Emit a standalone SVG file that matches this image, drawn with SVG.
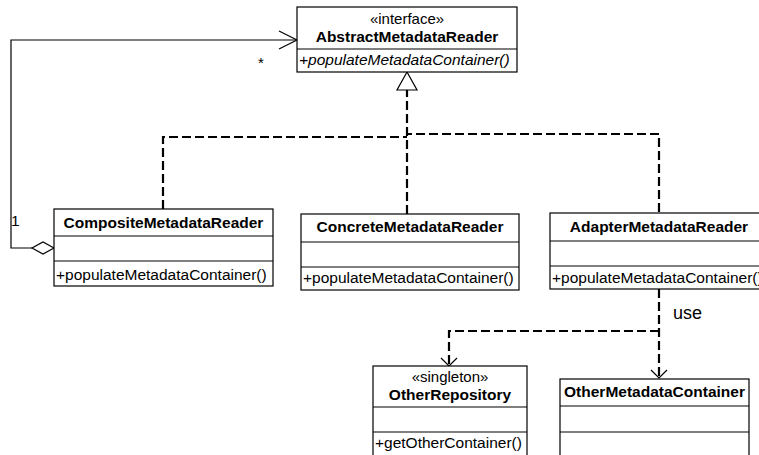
<svg xmlns="http://www.w3.org/2000/svg" width="759" height="455" viewBox="0 0 759 455">
<style>
.box{fill:#fff;stroke:#000;stroke-width:1.2}
.div{stroke:#000;stroke-width:1.2}
text{font-family:"Liberation Sans",Arial,sans-serif;font-size:15.5px;fill:#000}
.b{font-weight:bold}
.c{text-anchor:middle}
.st{font-size:15px}
.dash{fill:none;stroke:#000;stroke-width:2.2;stroke-dasharray:9,4}
.solid{fill:none;stroke:#000;stroke-width:1.2}
</style>
<rect width="759" height="455" fill="#fff"/>
<g id="connectors">
  <polyline class="solid" points="32,248 11,248 11,40 297,40"/>
  <polyline class="solid" points="279,31 297,40 279,49"/>
  <polygon points="54,248 43,242 32,248 43,254" fill="#fff" stroke="#000" stroke-width="1.2"/>
  <text x="258" y="68" class="st">*</text>
  <text x="11" y="226">1</text>
  <polyline class="dash" points="163,209 163,137 407,137"/>
  <polyline class="dash" points="407,214 407,90"/>
  <polyline class="dash" points="659,212 659,134 407,134"/>
  <polygon points="407,72 397,90 417,90" fill="#fff" stroke="#000" stroke-width="1.2"/>
  <polyline class="dash" points="659,289 659,377"/>
  <polyline class="dash" points="659,331 449,331 449,364"/>
  <polyline class="solid" points="651,370 659,378 667,370"/>
  <polyline class="solid" points="441,358 449,366 457,358"/>
  <text x="673" y="319" style="font-size:18px">use</text>
</g>
<g id="AbstractMetadataReader">
  <rect class="box" x="297" y="7" width="220" height="65"/>
  <line class="div" x1="297" y1="49" x2="517" y2="49"/>
  <text x="407" y="24" class="c st">«interface»</text>
  <text x="407" y="42" class="c b">AbstractMetadataReader</text>
  <text x="299" y="65" font-style="italic">+populateMetadataContainer()</text>
</g>
<g id="CompositeMetadataReader">
  <rect class="box" x="54" y="209" width="219" height="77"/>
  <line class="div" x1="54" y1="236" x2="273" y2="236"/>
  <line class="div" x1="54" y1="261" x2="273" y2="261"/>
  <text x="163.5" y="228" class="c b">CompositeMetadataReader</text>
  <text x="56" y="280">+populateMetadataContainer()</text>
</g>
<g id="ConcreteMetadataReader">
  <rect class="box" x="301" y="214" width="218" height="76"/>
  <line class="div" x1="301" y1="242" x2="519" y2="242"/>
  <line class="div" x1="301" y1="267" x2="519" y2="267"/>
  <text x="410" y="232" class="c b">ConcreteMetadataReader</text>
  <text x="303" y="283">+populateMetadataContainer()</text>
</g>
<g id="AdapterMetadataReader">
  <rect class="box" x="550" y="213" width="218" height="76"/>
  <line class="div" x1="550" y1="241" x2="768" y2="241"/>
  <line class="div" x1="550" y1="266" x2="768" y2="266"/>
  <text x="659" y="232" class="c b">AdapterMetadataReader</text>
  <text x="552" y="283">+populateMetadataContainer()</text>
</g>
<g id="OtherRepository">
  <rect class="box" x="373" y="366" width="154" height="95"/>
  <line class="div" x1="373" y1="407" x2="527" y2="407"/>
  <line class="div" x1="373" y1="432" x2="527" y2="432"/>
  <text x="450" y="382" class="c st">«singleton»</text>
  <text x="450" y="400" class="c b">OtherRepository</text>
  <text x="375" y="448">+getOtherContainer()</text>
</g>
<g id="OtherMetadataContainer">
  <rect class="box" x="560" y="379" width="189" height="85"/>
  <line class="div" x1="560" y1="406" x2="749" y2="406"/>
  <line class="div" x1="560" y1="432" x2="749" y2="432"/>
  <text x="654.5" y="397" class="c b">OtherMetadataContainer</text>
</g>
</svg>
